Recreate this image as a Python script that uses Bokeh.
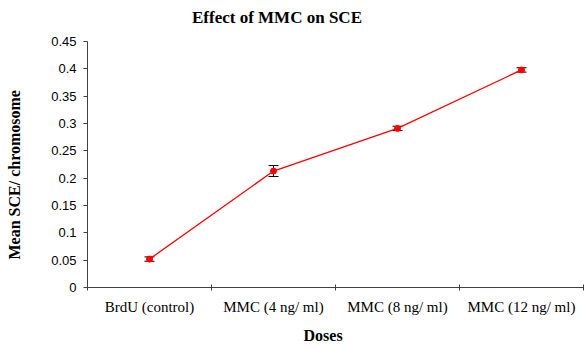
from bokeh.plotting import figure
from bokeh.models import (ColumnDataSource, Whisker, TeeHead, FixedTicker, Range1d,
                          CustomJSTickFormatter, Title, LinearAxis)
from bokeh.embed import file_html
from bokeh.resources import INLINE

categories = ["BrdU (control)", "MMC (4 ng/ ml)", "MMC (8 ng/ ml)", "MMC (12 ng/ ml)"]
means = [0.052, 0.213, 0.291, 0.398]
errors = [0.004, 0.010, 0.004, 0.004]
y_ticks = [0, 0.05, 0.1, 0.15, 0.2, 0.25, 0.3, 0.35, 0.4, 0.45]

xs = [i + 0.5 for i in range(len(categories))]
src = ColumnDataSource(data=dict(
    x=xs, y=means,
    lower=[m - e for m, e in zip(means, errors)],
    upper=[m + e for m, e in zip(means, errors)],
))

p = figure(width=584, height=350, output_backend="svg", toolbar_location=None,
           x_range=Range1d(0, len(categories)), y_range=Range1d(0, 0.45),
           min_border_left=87, min_border_right=1, min_border_top=41, min_border_bottom=62)
p.outline_line_color = None
p.grid.visible = False
p.background_fill_color = "white"
p.border_fill_color = "white"


def spacer(size):
    # a blank white axis that only reserves space between a title and the plot frame
    return LinearAxis(ticker=FixedTicker(ticks=[0]), major_label_overrides={0: ""},
                      major_tick_out=size, major_tick_in=0, major_label_standoff=0,
                      major_label_text_font_size="1px", axis_line_color=None,
                      major_tick_line_color="white", minor_tick_line_color=None)


# x axis: labels at category centres, ticks at boundaries
xa = p.xaxis[0]
xa.ticker = FixedTicker(ticks=xs, minor_ticks=list(range(len(categories) + 1)))
xa.major_label_overrides = {x: c for x, c in zip(xs, categories)}
xa.major_tick_line_color = None
xa.major_tick_in = 0
xa.major_tick_out = 3
xa.minor_tick_in = 3
xa.minor_tick_out = 3
xa.minor_tick_line_color = "#404040"
xa.axis_line_color = "#404040"
xa.major_label_standoff = 8
xa.major_label_text_font = "Liberation Serif"
xa.major_label_text_font_size = "15px"
xa.major_label_text_color = "black"

ya = p.yaxis[0]
ya.ticker = FixedTicker(ticks=y_ticks)
ya.formatter = CustomJSTickFormatter(code="return String(Math.round(tick*100)/100)")
ya.minor_tick_line_color = None
ya.major_tick_in = 0
ya.major_tick_out = 4
ya.major_tick_line_color = "#404040"
ya.axis_line_color = "#404040"
ya.major_label_standoff = 7
ya.major_label_text_font = "Liberation Sans"
ya.major_label_text_font_size = "13px"
ya.major_label_text_color = "black"

p.add_layout(spacer(11), "above")
p.add_layout(Title(text="Effect of MMC on SCE", align="left", offset=104.5, standoff=8,
                   text_font="Liberation Serif", text_font_style="bold",
                   text_font_size="17px", text_color="black"), "above")

p.add_layout(spacer(22), "left")
p.add_layout(Title(text="Mean SCE/ chromosome", align="left", offset=28, standoff=4,
                   vertical_align="top",
                   text_font="Liberation Serif", text_font_style="bold",
                   text_font_size="16px", text_color="black"), "left")

p.add_layout(Title(text="Doses", align="left", offset=216, standoff=14,
                   text_font="Liberation Serif", text_font_style="bold",
                   text_font_size="16px", text_color="black"), "below")

p.line("x", "y", source=src, line_color="#FF0000", line_width=1.3)
w = Whisker(source=src, base="x", lower="lower", upper="upper", dimension="height",
            line_color="black", line_width=1,
            upper_head=TeeHead(size=10, line_color="black", line_width=1),
            lower_head=TeeHead(size=10, line_color="black", line_width=1))
p.add_layout(w)
p.scatter("x", "y", source=src, size=6, fill_color="#FF0000", line_color="#FF0000")

open("out.html", "w").write(file_html(p, INLINE))
